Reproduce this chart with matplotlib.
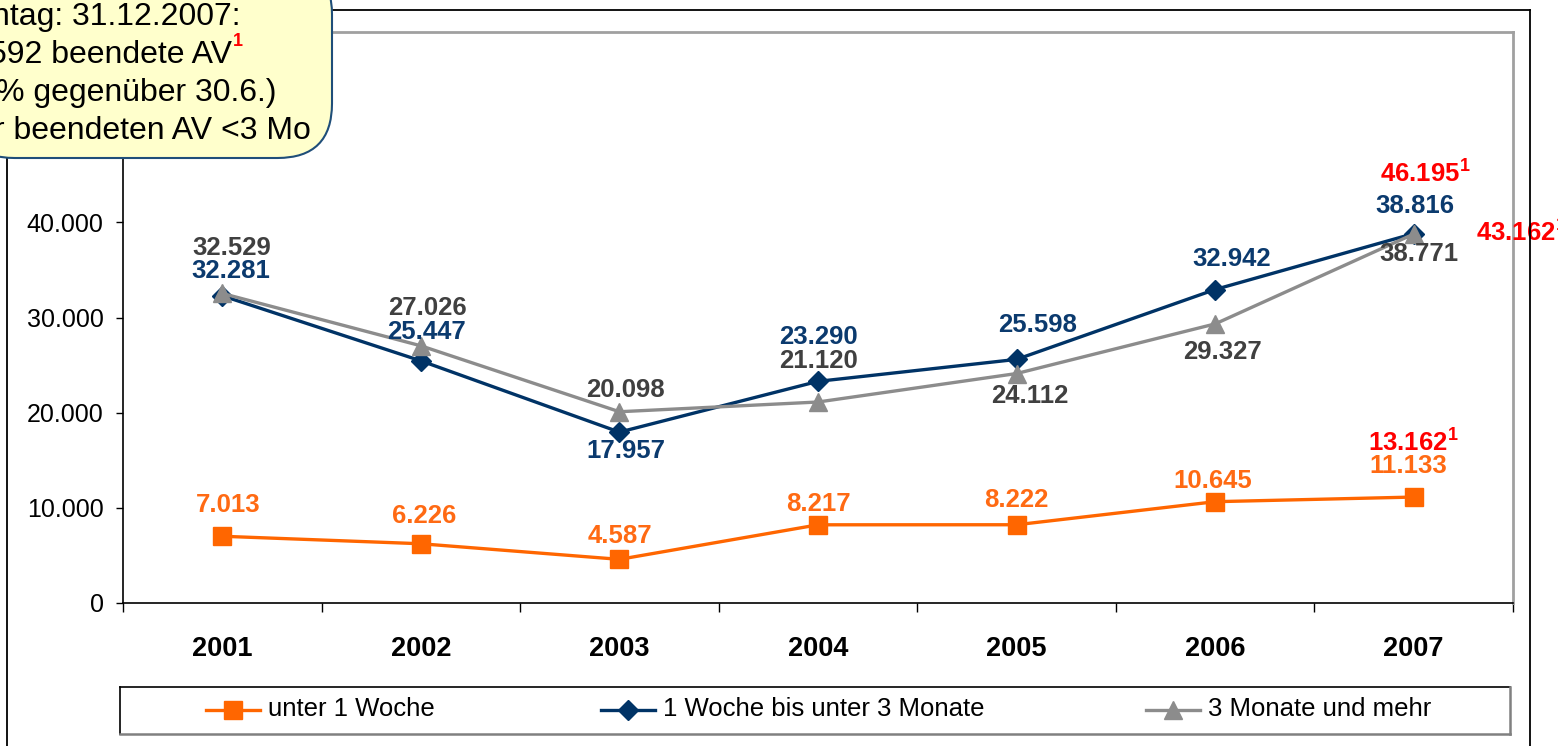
import matplotlib
matplotlib.use("Agg")
import matplotlib.pyplot as plt
from matplotlib.lines import Line2D
from matplotlib.patches import FancyBboxPatch
from matplotlib.ticker import FuncFormatter, FixedLocator, NullFormatter

plt.rcParams['font.family'] = ['Liberation Sans', 'DejaVu Sans']
plt.rcParams['mathtext.fontset'] = 'custom'
plt.rcParams['mathtext.rm'] = 'Liberation Sans'
plt.rcParams['mathtext.bf'] = 'Liberation Sans:bold'

# ---------------- data ----------------
years = ["2001", "2002", "2003", "2004", "2005", "2006", "2007"]
unter_1_woche = [7013, 6226, 4587, 8217, 8222, 10645, 11133]
woche_bis_3_monate = [32281, 25447, 17957, 23290, 25598, 32942, 38816]
monate_3_und_mehr = [32529, 27026, 20098, 21120, 24112, 29327, 38771]
series_names = ["unter 1 Woche", "1 Woche bis unter 3 Monate", "3 Monate und mehr"]
yticks = [0, 10000, 20000, 30000, 40000]
red_notes = ["46.195", "13.162", "43.162"]
callout_lines = ["ntag: 31.12.2007:", "592 beendete AV", "% gegenüber 30.6.)", "r beendeten AV <3 Mo"]

# ---------------- layout helpers ----------------
W, H = 1558, 746
fig = plt.figure(figsize=(W / 100, H / 100), dpi=100)
def fx(x): return x / W
def fy(y): return 1 - y / H

ax = fig.add_axes([fx(123), fy(603), fx(1513) - fx(123), fy(32) - fy(603)])

orange = '#FF6600'
navy = '#003366'
gray = '#8C8C8C'
orange_lbl = '#FF6A13'
navy_lbl = '#0B3A6E'
gray_lbl = '#404040'

x = list(range(len(years)))
ax.plot(x, unter_1_woche, color=orange, lw=2.4, marker='s', ms=12.5, zorder=3)
ax.plot(x, woche_bis_3_monate, color=navy, lw=2.4, marker='D', ms=10, zorder=4)
ax.plot(x, monate_3_und_mehr, color=gray, lw=2.4, marker='^', ms=13.5, zorder=5)

ax.set_xlim(-0.5, len(years) - 0.5)
ax.set_ylim(0, 60000)

def fmt(v):
    return f"{int(round(v)):,}".replace(",", ".")

ax.yaxis.set_major_locator(FixedLocator(yticks))
ax.yaxis.set_major_formatter(FuncFormatter(lambda v, p: fmt(v)))
ax.tick_params(axis='y', direction='out', length=5, width=1, pad=9, labelsize=18)

ax.xaxis.set_major_locator(FixedLocator([i - 0.5 for i in range(len(years) + 1)]))
ax.xaxis.set_major_formatter(NullFormatter())
ax.xaxis.set_minor_locator(FixedLocator(x))
ax.set_xticklabels(years, minor=True)
ax.tick_params(axis='x', which='major', direction='out', length=6.5, width=1)
ax.tick_params(axis='x', which='minor', length=0, pad=24, labelsize=19.5)
for t in ax.get_xticklabels(minor=True):
    t.set_fontweight('bold')

for s in ['left', 'bottom']:
    ax.spines[s].set_color('black')
    ax.spines[s].set_linewidth(1.2)
for s in ['top', 'right']:
    ax.spines[s].set_color('#A0A0A0')
    ax.spines[s].set_linewidth(2)

# ---------------- value labels (pixel offsets) ----------------
off_orange = [(6, 31), (3, 28), (1, 23), (0, 21), (0, 25), (-2, 21), (-5, 31)]
off_navy = [(9, 25), (6, 29), (6, -19), (0, 44), (21, 34), (17, 31), (1, 28)]
off_gray = [(9, 45), (7, 38), (6, 22), (0, 41), (13, -22), (7, -28), (5, -20)]

def lab(vals, offs, col):
    for i, (v, (dx, dy)) in enumerate(zip(vals, offs)):
        ax.annotate(fmt(v), (i, v), xytext=(dx * 0.72, dy * 0.72), textcoords='offset points',
                    ha='center', va='center', fontsize=18.5, fontweight='bold', color=col,
                    zorder=6, annotation_clip=False)

lab(unter_1_woche, off_orange, orange_lbl)
lab(woche_bis_3_monate, off_navy, navy_lbl)
lab(monate_3_und_mehr, off_gray, gray_lbl)

red = '#FF0000'
def red_note(txt, xy, off):
    ax.annotate(txt + r"$^{\mathbf{1}}$", xy, xytext=(off[0] * 0.72, off[1] * 0.72),
                textcoords='offset points', ha='center', va='center', fontsize=18.5,
                fontweight='bold', color=red, zorder=6, annotation_clip=False)

red_note(red_notes[0], (6, woche_bis_3_monate[6]), (12, 61))
red_note(red_notes[1], (6, unter_1_woche[6]), (0, 55))
fig.text(fx(1476), fy(232), red_notes[2] + r"$^{\mathbf{1}}$", ha='left', va='center',
         fontsize=18.5, fontweight='bold', color=red, zorder=2)

# ---------------- outer frame ----------------
for (x0, y0, x1, y1) in [(7, 10, 7, 760), (7, 10, 1530, 10), (1530, 10, 1530, 760)]:
    fig.add_artist(Line2D([fx(x0), fx(x1)], [fy(y0), fy(y1)], color='black', lw=1.3, zorder=3))

# ---------------- callout ----------------
box = FancyBboxPatch((fx(-40), fy(158)), fx(332) - fx(-40), fy(-40) - fy(158),
                     boxstyle="round,pad=0,rounding_size=0.035", transform=fig.transFigure,
                     facecolor='#FFFFCC', edgecolor='#1F4E79', lw=1.5, zorder=10,
                     mutation_aspect=W / H)
fig.add_artist(box)
rights = [240, 232, 276, 311]
ys = [17, 55, 93, 131]
for txt, rx, yy in zip(callout_lines, rights, ys):
    fig.text(fx(rx), fy(yy), txt, ha='right', va='center', fontsize=23, color='black', zorder=11)
fig.text(fx(233), fy(42), "1", ha='left', va='center', fontsize=13, fontweight='bold', color=red, zorder=11)

# ---------------- legend ----------------
lx0, ly0, lx1, ly1 = 120, 687, 1510, 734
fig.add_artist(Line2D([fx(lx0), fx(lx1)], [fy(ly0), fy(ly0)], color='black', lw=1.2))
fig.add_artist(Line2D([fx(lx0), fx(lx0)], [fy(ly0), fy(ly1)], color='black', lw=1.2))
fig.add_artist(Line2D([fx(lx0), fx(lx1)], [fy(ly1), fy(ly1)], color='#808080', lw=1.8))
fig.add_artist(Line2D([fx(lx1), fx(lx1)], [fy(ly0), fy(ly1)], color='#808080', lw=1.8))

leg_items = [(233, orange, 's', 12.5), (628, navy, 'D', 10), (1173, gray, '^', 13.5)]
for name, (cx, col, mk, ms) in zip(series_names, leg_items):
    fig.add_artist(Line2D([fx(cx - 27), fx(cx + 27)], [fy(710), fy(710)], color=col, lw=2.4))
    fig.add_artist(Line2D([fx(cx)], [fy(710)], color=col, marker=mk, ms=ms, lw=0))
    fig.text(fx(cx + 35), fy(709), name, ha='left', va='center', fontsize=18.5, color='black')

fig.savefig("out.png", dpi=100)
